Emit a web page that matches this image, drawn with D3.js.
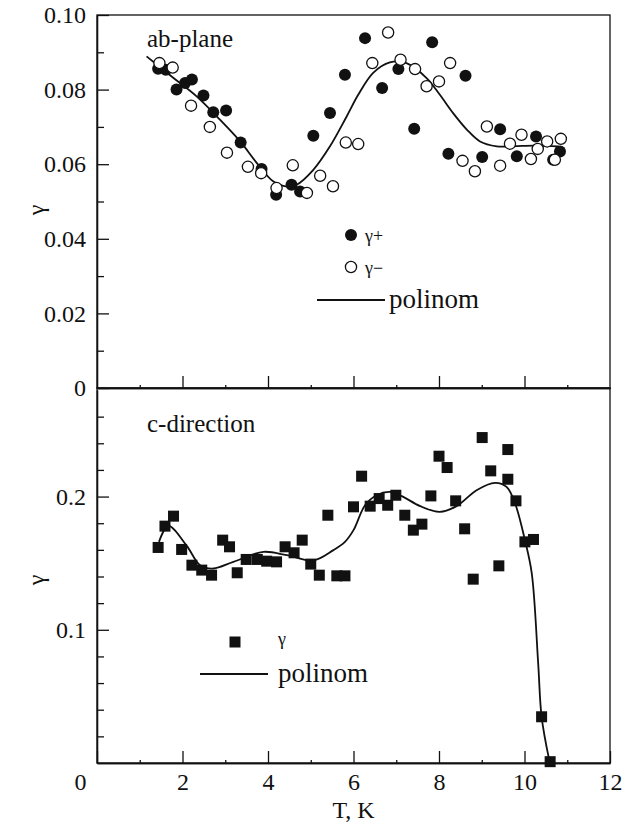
<!DOCTYPE html>
<html>
<head>
<meta charset="utf-8">
<script src="https://cdn.jsdelivr.net/npm/d3@7"></script>
<style>
  body { margin: 0; background: #fff; }
  .axis path, .axis line { stroke: #111; stroke-width: 1.3; }
</style>
</head>
<body>
<div id="chart"></div>
<script>
// ab-plane: gamma+ (filled circles)
var plusT = [1.43, 1.61, 1.86, 2.06, 2.22, 2.49, 2.72, 3.02, 3.36, 3.85, 4.19, 4.55, 4.75, 5.06, 5.45,
  5.80, 6.27, 6.67, 7.05, 7.42, 7.84, 8.22, 8.62, 9.01, 9.43, 9.82, 10.27, 10.67, 10.83];
var plusG = [0.0856, 0.0853, 0.0800, 0.0818, 0.0827, 0.0784, 0.0739, 0.0744, 0.0658, 0.0587, 0.0518, 0.0545, 0.0527, 0.0676, 0.0737,
  0.0840, 0.0938, 0.0804, 0.0855, 0.0695, 0.0927, 0.0628, 0.0837, 0.0619, 0.0694, 0.0621, 0.0674, 0.0612, 0.0634];

// ab-plane: gamma- (open circles)
var minusT = [1.46, 1.77, 2.20, 2.64, 3.04, 3.53, 3.84, 4.20, 4.58, 4.91, 5.22, 5.52, 5.82, 6.11, 6.44, 6.81,
  7.10, 7.44, 7.71, 8.00, 8.26, 8.55, 8.84, 9.12, 9.43, 9.66, 9.93, 10.15, 10.31, 10.53, 10.71, 10.85];
var minusG = [0.0871, 0.0859, 0.0757, 0.0700, 0.0631, 0.0593, 0.0576, 0.0536, 0.0597, 0.0523, 0.0569, 0.0541, 0.0658, 0.0654, 0.0871, 0.0953,
  0.0880, 0.0855, 0.0809, 0.0822, 0.0871, 0.0609, 0.0581, 0.0701, 0.0596, 0.0655, 0.0679, 0.0614, 0.0641, 0.0661, 0.0612, 0.0668];

// ab-plane polynomial fit
var fitAbT = [1.16, 1.79, 2.33, 2.88, 3.35, 3.74, 4.12, 4.44, 4.67, 5.06, 5.45, 5.84, 6.11, 6.46, 6.85,
  7.24, 7.71, 8.02, 8.33, 8.65, 8.96, 9.35, 9.74, 10.21, 10.80];
var fitAbG = [0.0889, 0.0831, 0.0782, 0.0719, 0.0661, 0.0603, 0.0554, 0.0540, 0.0545, 0.0585, 0.0648, 0.0728, 0.0786, 0.0845, 0.0873,
  0.0871, 0.0831, 0.0786, 0.0737, 0.0693, 0.0661, 0.0648, 0.0648, 0.0650, 0.0648];

// c-direction: gamma (squares)
var cT = [1.43, 1.59, 1.79, 1.98, 2.22, 2.45, 2.68, 2.94, 3.10, 3.28, 3.49, 3.75, 3.97, 4.20, 4.40, 4.61, 4.80,
  5.00, 5.20, 5.40, 5.61, 5.80, 6.00, 6.19, 6.39, 6.60, 6.80, 6.99, 7.20, 7.40, 7.60, 7.81, 8.00, 8.19, 8.39,
  8.60, 8.80, 9.01, 9.21, 9.40, 9.61, 9.61, 9.80, 10.01, 10.21, 10.40, 10.60];
var cG = [0.1618, 0.1778, 0.1853, 0.1603, 0.1485, 0.1448, 0.1410, 0.1673, 0.1623, 0.1428, 0.1528, 0.1528, 0.1515, 0.1510, 0.1623, 0.1578, 0.1673,
  0.1493, 0.1410, 0.1860, 0.1405, 0.1405, 0.1923, 0.2153, 0.1928, 0.1985, 0.1935, 0.2010, 0.1860, 0.1748, 0.1793, 0.2005, 0.2303, 0.2218, 0.1968,
  0.1758, 0.1380, 0.2443, 0.2193, 0.1480, 0.2353, 0.2130, 0.1968, 0.1660, 0.1678, 0.0347, 0.0010];

// c-direction polynomial fit
var fitCT = [1.45, 1.67, 2.10, 2.41, 2.72, 3.19, 3.89, 4.44, 5.06, 5.53, 5.80, 6.00, 6.27, 6.54, 6.85, 7.13,
  7.56, 8.02, 8.41, 8.88, 9.31, 9.58, 9.78, 10.01, 10.17, 10.32, 10.40, 10.58];
var fitCG = [0.166, 0.178, 0.163, 0.1485, 0.146, 0.151, 0.1585, 0.156, 0.152, 0.1598, 0.166, 0.1748, 0.1935, 0.201, 0.2035, 0.2003,
  0.1928, 0.1885, 0.1928, 0.2048, 0.2103, 0.2073, 0.1948, 0.1673, 0.1423, 0.0748, 0.0347, 0.0020];

var xMajor = [0, 2, 4, 6, 8, 10, 12];
var xMinor = [1, 3, 5, 7, 9, 11];
var abMajor = [0, 0.02, 0.04, 0.06, 0.08, 0.10];
var abMinor = [0.01, 0.03, 0.05, 0.07, 0.09];
var cMajor = [0.1, 0.2];
var cMinor = [0.02, 0.04, 0.06, 0.08, 0.12, 0.14, 0.16, 0.18, 0.22, 0.24, 0.26];

var width = 638, height = 828;
var left = 97, right = 610, top1 = 15, mid = 388, bottom2 = 763;

var svg = d3.select("#chart").append("svg")
  .attr("width", width)
  .attr("height", height);

var x = d3.scaleLinear().domain([0, 12]).range([left, right]);
var yAb = d3.scaleLinear().domain([0, 0.10]).range([mid, top1]);
var yC = d3.scaleLinear().domain([0, 0.28]).range([bottom2, 390]);

function zip(a, b) { return a.map(function (d, i) { return [d, b[i]]; }); }

// frames
svg.append("rect")
  .attr("x", left).attr("y", top1)
  .attr("width", right - left).attr("height", mid - top1)
  .attr("fill", "none").attr("stroke", "#111").attr("stroke-width", 1.3);
svg.append("rect")
  .attr("x", left).attr("y", mid)
  .attr("width", right - left).attr("height", bottom2 - mid)
  .attr("fill", "none").attr("stroke", "#111").attr("stroke-width", 1.3);

// ---- top panel axes
svg.append("g").attr("class", "axis")
  .attr("transform", "translate(" + left + ",0)")
  .call(d3.axisLeft(yAb).tickValues(abMajor).tickSizeInner(-12).tickSizeOuter(0).tickPadding(11)
    .tickFormat(function (d) { return d === 0 ? "0" : d3.format(".2f")(d); }));
svg.append("g").attr("class", "axis")
  .attr("transform", "translate(" + left + ",0)")
  .call(d3.axisLeft(yAb).tickValues(abMinor).tickSizeInner(-7).tickSizeOuter(0).tickFormat(""));
svg.append("g").attr("class", "axis")
  .attr("transform", "translate(0," + mid + ")")
  .call(d3.axisBottom(x).tickValues(xMajor.slice(1, -1)).tickSizeInner(-12).tickSizeOuter(0).tickFormat(""));
svg.append("g").attr("class", "axis")
  .attr("transform", "translate(0," + mid + ")")
  .call(d3.axisBottom(x).tickValues(xMinor).tickSizeInner(-3).tickSizeOuter(0).tickFormat(""));

// ---- bottom panel axes
svg.append("g").attr("class", "axis")
  .attr("transform", "translate(" + left + ",0)")
  .call(d3.axisLeft(yC).tickValues(cMajor).tickSizeInner(-12).tickSizeOuter(0).tickPadding(11)
    .tickFormat(d3.format(".1f")));
svg.append("g").attr("class", "axis")
  .attr("transform", "translate(" + left + ",0)")
  .call(d3.axisLeft(yC).tickValues(cMinor).tickSizeInner(-7).tickSizeOuter(0).tickFormat(""));
var xAxisG = svg.append("g").attr("class", "axis")
  .attr("transform", "translate(0," + bottom2 + ")")
  .call(d3.axisBottom(x).tickValues(xMajor).tickSizeInner(-12).tickSizeOuter(0).tickPadding(10));
svg.append("g").attr("class", "axis")
  .attr("transform", "translate(0," + bottom2 + ")")
  .call(d3.axisBottom(x).tickValues(xMinor).tickSizeInner(-3).tickSizeOuter(0).tickFormat(""));
// the "0" label sits left of the y axis
xAxisG.selectAll(".tick text").filter(function (d) { return d === 0; }).attr("dx", -17);

svg.selectAll(".axis text").style("font-size", "24px");

// axis titles
svg.append("text")
  .attr("transform", "translate(44,210) rotate(-90)")
  .attr("text-anchor", "middle").style("font-size", "24px").text("γ");
svg.append("text")
  .attr("transform", "translate(44,580) rotate(-90)")
  .attr("text-anchor", "middle").style("font-size", "24px").text("γ");
svg.append("text")
  .attr("x", x(6)).attr("y", 818)
  .attr("text-anchor", "middle").style("font-size", "24px").text("T, K");

// panel labels
svg.append("text").attr("x", 147).attr("y", 47).style("font-size", "25px").text("ab-plane");
svg.append("text").attr("x", 147).attr("y", 432).style("font-size", "25px").text("c-direction");

var line = d3.line().curve(d3.curveCatmullRom.alpha(0.5));

// ---- top panel marks
line.x(function (d) { return x(d[0]); }).y(function (d) { return yAb(d[1]); });
svg.append("path")
  .datum(zip(fitAbT, fitAbG))
  .attr("d", line)
  .attr("fill", "none").attr("stroke", "#111").attr("stroke-width", 1.8);

svg.append("g").selectAll("circle")
  .data(zip(plusT, plusG))
  .enter().append("circle")
  .attr("cx", function (d) { return x(d[0]); })
  .attr("cy", function (d) { return yAb(d[1]); })
  .attr("r", 6)
  .attr("fill", "#111");

svg.append("g").selectAll("circle")
  .data(zip(minusT, minusG))
  .enter().append("circle")
  .attr("cx", function (d) { return x(d[0]); })
  .attr("cy", function (d) { return yAb(d[1]); })
  .attr("r", 5.6)
  .attr("fill", "#fff").attr("stroke", "#111").attr("stroke-width", 1.3);

// top legend
svg.append("circle").attr("cx", 351).attr("cy", 235).attr("r", 6).attr("fill", "#111");
svg.append("text").attr("x", 365).attr("y", 242).style("font-size", "18px").text("γ+");
svg.append("circle").attr("cx", 351).attr("cy", 267).attr("r", 5.6)
  .attr("fill", "#fff").attr("stroke", "#111").attr("stroke-width", 1.3);
svg.append("text").attr("x", 365).attr("y", 274).style("font-size", "18px").text("γ−");
svg.append("line").attr("x1", 317).attr("x2", 385).attr("y1", 300).attr("y2", 300)
  .attr("stroke", "#111").attr("stroke-width", 1.8);
svg.append("text").attr("x", 389).attr("y", 308).style("font-size", "27px").text("polinom");

// ---- bottom panel marks
line.x(function (d) { return x(d[0]); }).y(function (d) { return yC(d[1]); });
svg.append("path")
  .datum(zip(fitCT, fitCG))
  .attr("d", line)
  .attr("fill", "none").attr("stroke", "#111").attr("stroke-width", 1.8);

var sq = 11;
svg.append("g").selectAll("rect")
  .data(zip(cT, cG))
  .enter().append("rect")
  .attr("x", function (d) { return x(d[0]) - sq / 2; })
  .attr("y", function (d) { return yC(d[1]) - sq / 2; })
  .attr("width", sq).attr("height", sq)
  .attr("fill", "#111");

// bottom legend
svg.append("rect").attr("x", 235 - sq / 2).attr("y", 642 - sq / 2).attr("width", sq).attr("height", sq).attr("fill", "#111");
svg.append("text").attr("x", 278).attr("y", 645).style("font-size", "18px").text("γ");
svg.append("line").attr("x1", 200).attr("x2", 268).attr("y1", 674).attr("y2", 674)
  .attr("stroke", "#111").attr("stroke-width", 1.8);
svg.append("text").attr("x", 278).attr("y", 682).style("font-size", "27px").text("polinom");

// serif type everywhere, as in the printed figure
svg.selectAll("text").style("font-family", "'Liberation Serif'").attr("fill", "#111");
</script>
</body>
</html>
